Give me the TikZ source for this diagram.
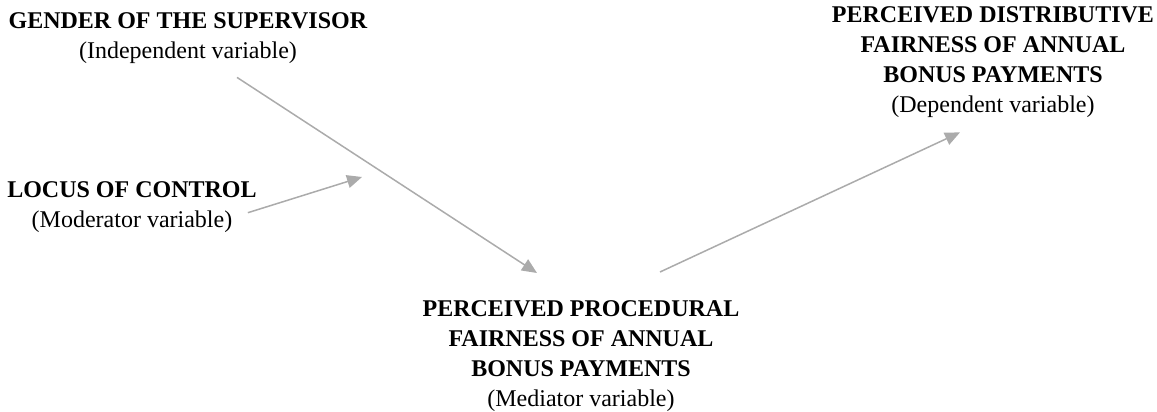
\documentclass[tikz,border=0pt]{standalone}
\usepackage{fontspec}
\setmainfont{Liberation Serif}
\usetikzlibrary{arrows.meta,calc}

\begin{document}
\begin{tikzpicture}[x=1pt,y=-1pt,>={Triangle[length=15pt,width=13pt]},
  every node/.style={align=center,inner sep=0pt,anchor=north,font=\fontsize{24}{30}\selectfont},
  link/.style={->,draw=black!33,line width=1.5pt}]

\useasboundingbox (0,0) rectangle (1157,412);

% the four variables
\path
(188,12)  node (gender) {\textbf{GENDER OF THE SUPERVISOR}\\(Independent variable)}
(132,181) node (locus) {\textbf{LOCUS OF CONTROL}\\(Moderator variable)}
(581,300) node (mediator) {\textbf{PERCEIVED PROCEDURAL}\\\textbf{FAIRNESS OF ANNUAL}\\\textbf{BONUS PAYMENTS}\\(Mediator variable)}
(993,6)   node (dependent) {\textbf{PERCEIVED DISTRIBUTIVE}\\\textbf{FAIRNESS OF ANNUAL}\\\textbf{BONUS PAYMENTS}\\(Dependent variable)};

\coordinate (modpoint) at (362,177); % moderator points at the first path

% paths
\draw[link] ($(gender.south)+(49,14)$) -- ($(mediator.north)+(-44,-27)$);
\draw[link] ($(locus.east)+(-9,6)$) -- (modpoint);
\draw[link] ($(mediator.north)+(79,-28)$) -- ($(dependent.south)+(-33,15)$);

\end{tikzpicture}
\end{document}
